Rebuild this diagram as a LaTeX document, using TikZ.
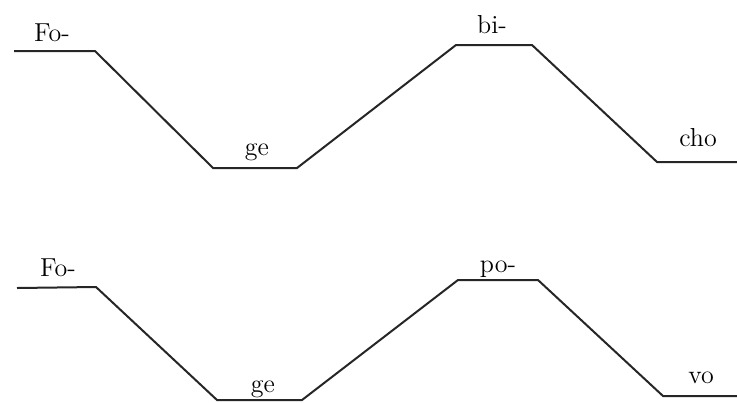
\documentclass[tikz,border=0pt]{standalone}
\usepackage{tikz}

\begin{document}
\begin{tikzpicture}[
  x=0.5pt, y=-0.5pt,
  every node/.style={font=\fontsize{13}{15}\selectfont},
  contour/.style={line width=1pt, black!85, line join=miter},
  syl/.style={anchor=base, inner sep=0pt},
]
\useasboundingbox (0,0) rectangle (737,402);

% upper contour: Fo-ge-bi-cho
\coordinate (a0) at ( 14, 51);
\coordinate (a1) at ( 95, 51);
\coordinate (a2) at (213,168);
\coordinate (a3) at (297,168);
\coordinate (a4) at (456, 45);
\coordinate (a5) at (532, 45);
\coordinate (a6) at (657,162);
\coordinate (a7) at (737,162);
\draw[contour] (a0) -- (a1) -- (a2) -- (a3) -- (a4) -- (a5) -- (a6) -- (a7);

\node[syl] at ( 52, 41) (fo1)  {Fo-};
\node[syl] at (257,155) (ge1)  {ge};
\node[syl] at (492, 33) (bi)   {bi-};
\node[syl] at (698,146) (cho)  {cho};

% lower contour: Fo-ge-po-vo
\coordinate (b0) at ( 17,288);
\coordinate (b1) at ( 96,287);
\coordinate (b2) at (217,400);
\coordinate (b3) at (302,400);
\coordinate (b4) at (458,280);
\coordinate (b5) at (538,280);
\coordinate (b6) at (663,396);
\coordinate (b7) at (737,396);
\draw[contour] (b0) -- (b1) -- (b2) -- (b3) -- (b4) -- (b5) -- (b6) -- (b7);

\node[syl] at ( 58,276) (fo2)  {Fo-};
\node[syl] at (263,392) (ge2)  {ge};
\node[syl] at (498,272) (po)   {po-};
\node[syl] at (701,383) (vo)   {vo};
\end{tikzpicture}
\end{document}
